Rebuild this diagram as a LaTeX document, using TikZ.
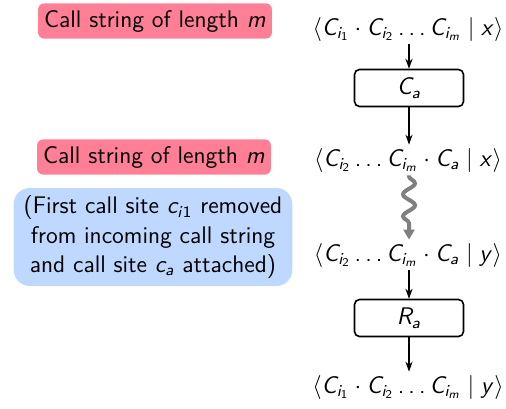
\documentclass[tikz,border=0pt]{standalone}
\DeclareSymbolFont{letters}{OT1}{cmss}{m}{sl}
\DeclareSymbolFont{operators}{OT1}{cmss}{m}{n}
\renewcommand{\familydefault}{\sfdefault}
\renewcommand{\ldotp}{\mathpunct{\mbox{.}}}
\usetikzlibrary{decorations.pathmorphing,arrows.meta}
\definecolor{pinkbg}{RGB}{255,128,150}
\definecolor{bluebg}{RGB}{190,216,255}
\definecolor{wavegray}{RGB}{128,128,128}
\begin{document}
\begin{tikzpicture}[x=0.5pt,y=-0.5pt,
  every node/.style={font=\fontsize{12}{14.5}\selectfont},
  lbl/.style={fill=pinkbg,rounded corners=3pt,inner xsep=3pt,minimum height=16.5pt},
  note/.style={fill=bluebg,rounded corners=8pt,align=center,inner xsep=5pt,minimum height=49pt},
  cs/.style={inner sep=1.5pt},
  fn/.style={draw,line width=0.8pt,rounded corners=2.5pt,minimum width=54.5pt,minimum height=18.5pt},
  arr/.style={-{Stealth[length=5pt,width=3.6pt]},line width=0.55pt},
  wav/.style={wavegray,line width=2pt,-{Triangle[length=5pt,width=5.5pt]},
    decorate,decoration={snake,amplitude=3pt,segment length=11pt,post length=5pt,pre length=0.5pt}}]
\useasboundingbox (0,0) rectangle (506,408);
\node[lbl] (l1) at (155,21) {Call string of length $m$};
\node[lbl] (l2) at (154,157) {Call string of length $m$};
\node[note] (n1) at (153,237) {(First call site $c_{i1}$ removed\\from incoming call string\\ and call site $c_a$ attached)};
\node[cs] (t1) at (408,29) {$\langle C_{i_1}\cdot C_{i_2}\ldots C_{i_m}\mid x\rangle$};
\node[fn] (ca) at (409,88) {$C_a$};
\node[cs] (t2) at (408,160) {$\langle C_{i_2}\ldots C_{i_m}\cdot C_a\mid x\rangle$};
\node[cs] (t3) at (408,255) {$\langle C_{i_2}\ldots C_{i_m}\cdot C_a\mid y\rangle$};
\node[fn] (ra) at (409,318) {$R_a$};
\node[cs] (t4) at (408,387) {$\langle C_{i_1}\cdot C_{i_2}\ldots C_{i_m}\mid y\rangle$};
\draw[arr] (t1.south -| ca) -- (ca.north);
\draw[arr] (ca.south) -- (t2.north -| ca);
\draw[wav] (t2.south -| ca) -- (t3.north -| ca);
\draw[arr] (t3.south -| ra) -- (ra.north);
\draw[arr] (ra.south) -- (t4.north -| ra);
\end{tikzpicture}
\end{document}
